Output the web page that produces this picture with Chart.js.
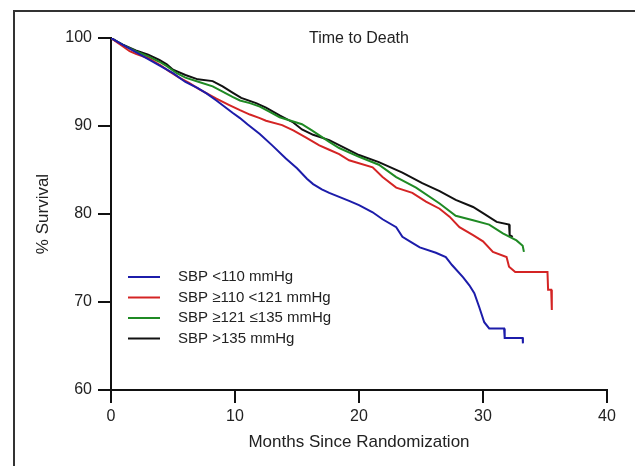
<!DOCTYPE html>
<html>
<head>
<meta charset="utf-8">
<script src="https://cdn.jsdelivr.net/npm/chart.js@4/dist/chart.umd.min.js"></script>
<style>
  html, body { margin: 0; padding: 0; background: #fff; }
  #wrap { position: relative; width: 635px; height: 466px; overflow: hidden; }
  #frame { position: absolute; left: 13px; top: 10px; width: 640px; height: 470px;
           border-left: 2px solid #333; border-top: 2px solid #333; box-sizing: border-box; }
  canvas { position: absolute; left: 0; top: 0; }
</style>
</head>
<body>
<div id="wrap">
  <div id="frame"></div>
  <canvas id="c" width="635" height="466"></canvas>
</div>
<script>
// ---- Data ----
const seriesLabels = ['SBP <110 mmHg', 'SBP \u2265110 <121 mmHg', 'SBP \u2265121 \u2264135 mmHg', 'SBP >135 mmHg'];
const seriesColors = ['#1c1caa', '#d42424', '#1f8a24', '#111111'];

const blueMonths = [0,0.5,1,2,3,3.5,4,5,6,7,7.7,8.5,9.8,10.4,11,12,13,14.1,15,15.8,16.3,17,17.6,19.2,20,21.1,21.9,23,23.5,24.2,24.9,26.2,27,27.5,28.4,28.9,29.3,29.7,30.1,30.5,31.7,31.75,33.2,33.22];
const blueSurv   = [100,99.6,99.2,98.4,97.6,97.2,96.8,96.0,95.0,94.3,93.7,92.9,91.5,90.9,90.2,89.1,87.8,86.3,85.2,84.0,83.4,82.8,82.4,81.5,81.0,80.2,79.4,78.5,77.4,76.8,76.2,75.6,75.1,74.2,72.8,71.9,71.0,69.4,67.7,67.0,67.0,65.9,65.9,65.3];

const redMonths = [0,0.5,1,1.5,2,3,4,4.7,5.5,6.3,7.1,8.5,9.5,10.4,11.2,12,12.5,13.8,14.7,15.7,16.8,17.6,18.4,19.2,21.1,21.9,23,24.3,25.4,26.5,27.3,28.1,29.2,30,30.8,31.9,32.1,32.6,35.2,35.25,35.5,35.55];
const redSurv   = [100,99.5,99.0,98.5,98.2,97.7,96.9,96.2,95.5,94.9,94.2,93.1,92.4,91.8,91.3,90.9,90.6,90.1,89.5,88.7,87.8,87.3,86.8,86.1,85.3,84.2,83.0,82.4,81.4,80.6,79.7,78.5,77.6,76.9,75.7,75.1,74.0,73.4,73.4,71.4,71.4,69.1];

const greenMonths = [0,0.5,1,2,3,3.9,4.5,5.3,6,7.1,8.2,9,9.8,10.4,11.2,12,12.8,13.6,14.5,15.4,16.2,17.6,18.4,20,21.6,23,24.6,26.5,27.8,29.2,30.5,31.6,32.7,33.2,33.3];
const greenSurv   = [100,99.6,99.2,98.5,97.9,97.3,96.8,96.0,95.5,95.0,94.5,93.9,93.3,92.9,92.6,92.2,91.6,91.0,90.6,90.2,89.5,88.2,87.5,86.5,85.6,84.2,83.0,81.2,79.8,79.3,78.8,77.8,77.0,76.4,75.7];

const blackMonths = [0,0.5,1,2,3,3.9,4.5,5,6,7,8.2,9,9.8,10.5,11.7,12.5,13.6,14.7,15.4,16.3,17.6,20,21.6,23.5,25.1,26.5,27.8,29.2,30,31.1,32.1,32.15,32.4];
const blackSurv   = [100,99.6,99.2,98.6,98.1,97.5,97.0,96.4,95.8,95.3,95.1,94.5,93.8,93.2,92.6,92.1,91.2,90.4,89.6,89.0,88.4,86.7,85.9,84.7,83.5,82.6,81.6,80.8,80.1,79.1,78.8,77.6,77.4];

const xTicks = [0,10,20,30,40];
const yTicks = [60,70,80,90,100];

const chartTitle = 'Time to Death';
const xTitle = 'Months Since Randomization';
const yTitle = '% Survival';

// ---- Build datasets ----
function pts(xs, ys) { return xs.map((x, i) => ({ x: x, y: ys[i] })); }
const allSeries = [pts(blueMonths, blueSurv), pts(redMonths, redSurv), pts(greenMonths, greenSurv), pts(blackMonths, blackSurv)];
const datasets = allSeries.map((d, i) => ({
  label: seriesLabels[i],
  data: d,
  borderColor: seriesColors[i],
  backgroundColor: seriesColors[i],
  borderWidth: 2,
  pointRadius: 0,
  tension: 0,
  borderJoinStyle: 'miter',
  fill: false
}));

const FONT = 'Arial, "Liberation Sans", Helvetica, sans-serif';
const TXT = '#222';

const overlay = {
  id: 'overlay',
  afterDatasetsDraw(chart) {
    const ctx = chart.ctx;
    const a = chart.chartArea;
    ctx.save();
    ctx.fillStyle = TXT;
    ctx.font = '16px ' + FONT;
    ctx.textAlign = 'center';
    ctx.textBaseline = 'middle';
    ctx.fillText(chartTitle, (a.left + a.right) / 2, a.top + 1);
    ctx.font = '15px ' + FONT;
    ctx.textAlign = 'left';
    chart.data.datasets.forEach((ds, i) => {
      const y = 277 + i * 20.5;
      ctx.strokeStyle = ds.borderColor;
      ctx.lineWidth = 2;
      ctx.beginPath();
      ctx.moveTo(128, y);
      ctx.lineTo(160, y);
      ctx.stroke();
      ctx.fillStyle = TXT;
      ctx.fillText(ds.label, 178, y);
    });
    ctx.restore();
  }
};

new Chart(document.getElementById('c'), {
  type: 'line',
  data: { datasets: datasets },
  plugins: [overlay],
  options: {
    responsive: false,
    animation: false,
    devicePixelRatio: 1,
    layout: { padding: { left: 0, right: 28, top: 38, bottom: 0 } },
    plugins: { legend: { display: false }, tooltip: { enabled: false }, title: { display: false } },
    scales: {
      x: {
        type: 'linear',
        min: 0, max: 40,
        afterBuildTicks(s) { s.ticks = xTicks.map(v => ({ value: v })); },
        afterFit(s) { s.height = 76; },
        border: { display: true, color: '#111', width: 2 },
        grid: { display: true, drawOnChartArea: false, drawTicks: true, tickLength: 13, color: '#111', lineWidth: 2 },
        ticks: { color: TXT, font: { size: 16, family: FONT }, padding: 4, maxRotation: 0 },
        title: { display: true, text: xTitle, color: TXT, font: { size: 17, family: FONT }, padding: { top: 13, bottom: 13 } }
      },
      y: {
        type: 'linear',
        min: 60, max: 100,
        afterBuildTicks(s) { s.ticks = yTicks.map(v => ({ value: v })); },
        afterFit(s) { s.width = 111; },
        border: { display: true, color: '#111', width: 2 },
        grid: { display: true, drawOnChartArea: false, drawTicks: true, tickLength: 13, color: '#111', lineWidth: 2 },
        ticks: { color: TXT, font: { size: 16, family: FONT }, padding: 6 },
        title: { display: true, text: yTitle, color: TXT, font: { size: 17, family: FONT }, padding: { top: 33, bottom: 33 } }
      }
    }
  }
});
</script>
</body>
</html>
